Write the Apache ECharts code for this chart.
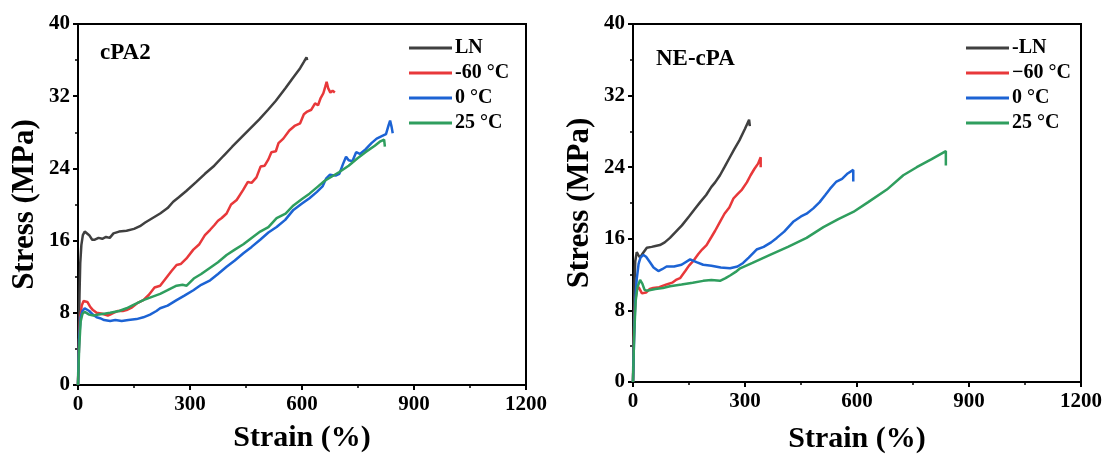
<!DOCTYPE html>
<html>
<head>
<meta charset="utf-8">
<script src="https://cdn.jsdelivr.net/npm/echarts@6/dist/echarts.min.js"></script>
<style>
html,body{margin:0;padding:0;background:#fff;}
#chart{width:1108px;height:459px;}
</style>
</head>
<body>
<div id="chart"></div>
<script>
// ---- Data (strain %, stress MPa) ----
const panelTitles = ['cPA2', 'NE-cPA'];
const xTicks = [0, 300, 600, 900, 1200];
const yTicks = [0, 8, 16, 24, 32, 40];
const leftNames = ['LN', '-60 °C', '0 °C', '25 °C'];
const rightNames = ['-LN', '\u221260 °C', '0 °C', '25 °C'];

const cPA2_LN = [[0,0],[2,5],[4,10],[6,13.5],[9,15.5],[13,16.6],[18,17.0],[23,17.0],[30,16.6],[38,16.1],[45,16.1],[55,16.3],[65,16.2],[75,16.4],[85,16.3],[95,16.8],[110,17.0],[130,17.1],[150,17.3],[166,17.6],[180,18.0],[200,18.5],[220,19.0],[240,19.6],[255,20.3],[270,20.8],[290,21.5],[317,22.5],[340,23.4],[365,24.3],[390,25.4],[413,26.4],[437,27.4],[461,28.4],[485,29.4],[509,30.5],[530,31.5],[556,32.9],[575,34.0],[595,35.1],[605,35.8],[612,36.3],[614,36.0]];
const cPA2_m60 = [[0,0],[3,5],[6,7.5],[10,8.8],[15,9.3],[19,9.4],[25,9.2],[32,8.7],[40,8.3],[50,8.0],[65,7.9],[80,7.7],[86,7.8],[95,8.0],[107,8.2],[120,8.2],[130,8.3],[145,8.6],[160,9.1],[175,9.4],[190,10.0],[205,10.8],[220,11.0],[235,11.8],[250,12.6],[264,13.3],[275,13.4],[290,14.0],[309,15.0],[325,15.6],[340,16.6],[354,17.2],[365,17.7],[375,18.2],[385,18.5],[398,19.0],[410,20.0],[425,20.5],[442,21.6],[455,22.5],[465,22.4],[478,23.0],[489,24.2],[500,24.3],[510,25.0],[518,25.8],[530,25.9],[537,26.8],[550,27.3],[566,28.2],[580,28.7],[595,29.0],[605,30.0],[614,30.3],[625,30.5],[635,31.2],[643,31.0],[650,31.8],[657,32.3],[662,33.0],[666,33.6],[670,32.9],[676,32.4],[682,32.6],[688,32.4]];
const cPA2_0 = [[0,0],[3,5],[7,7.5],[12,8.2],[18,8.5],[23,8.5],[30,8.2],[40,7.8],[50,7.5],[59,7.4],[70,7.2],[86,7.1],[100,7.2],[117,7.1],[135,7.2],[157,7.3],[175,7.5],[193,7.8],[210,8.2],[220,8.5],[240,8.8],[264,9.4],[285,9.9],[309,10.5],[330,11.1],[354,11.6],[375,12.3],[398,13.1],[420,13.8],[443,14.6],[465,15.3],[488,16.1],[510,16.9],[532,17.5],[555,18.3],[577,19.4],[600,20.1],[620,20.7],[640,21.4],[655,22.0],[665,22.9],[675,23.3],[690,23.2],[700,23.4],[710,24.5],[718,25.3],[725,24.9],[735,24.8],[745,25.8],[755,25.6],[770,26.1],[786,26.8],[800,27.3],[815,27.6],[825,27.8],[832,28.8],[836,29.3],[840,28.6],[843,27.9]];
const cPA2_25 = [[0,0],[3,4],[7,7],[12,7.9],[18,8.1],[22,8.0],[30,7.8],[41,7.7],[55,7.8],[70,7.9],[86,8.0],[110,8.2],[130,8.5],[150,8.9],[175,9.4],[200,9.8],[220,10.1],[240,10.5],[264,11.0],[280,11.1],[291,11.0],[310,11.8],[330,12.3],[354,13.0],[375,13.6],[398,14.4],[420,15.0],[443,15.6],[465,16.3],[488,17.0],[510,17.5],[532,18.5],[556,19.0],[577,19.9],[600,20.6],[620,21.2],[640,21.9],[660,22.6],[680,23.1],[700,23.6],[725,24.3],[748,25.1],[770,25.8],[795,26.5],[810,27.0],[820,27.2],[822,26.4]];

const NE_LN = [[0,0],[2,6],[4,11],[6,13.5],[10,14.5],[14,14.2],[19,13.9],[25,14.3],[37,15.0],[50,15.1],[60,15.2],[72,15.3],[85,15.6],[99,16.1],[115,16.8],[131,17.5],[150,18.5],[165,19.3],[180,20.1],[196,20.9],[210,21.8],[220,22.3],[233,23.1],[245,24.0],[258,25.0],[271,26.0],[285,27.0],[300,28.3],[311,29.3],[313,28.6]];
const NE_m60 = [[0,0],[3,6],[6,9],[10,10.3],[15,10.6],[19,10.5],[24,9.9],[28,9.8],[35,10.0],[45,10.4],[54,10.5],[70,10.6],[90,10.9],[105,11.1],[115,11.4],[126,11.6],[140,12.4],[150,13.0],[161,13.5],[175,14.3],[185,14.8],[197,15.3],[210,16.2],[220,16.9],[233,17.9],[245,18.8],[258,19.5],[269,20.5],[280,21.0],[292,21.5],[305,22.3],[315,23.1],[325,23.8],[335,24.4],[342,25.1],[342,24.0]];
const NE_0 = [[0,0],[3,5],[6,9],[10,11.5],[15,13.2],[20,13.9],[28,14.2],[35,14.0],[45,13.4],[55,12.8],[68,12.4],[78,12.6],[90,12.9],[110,12.9],[130,13.1],[153,13.7],[170,13.4],[188,13.1],[210,13.0],[235,12.8],[260,12.7],[280,12.9],[295,13.3],[310,13.9],[331,14.8],[350,15.1],[370,15.6],[385,16.1],[405,16.8],[429,17.9],[450,18.5],[465,18.8],[483,19.4],[500,20.1],[515,20.9],[528,21.6],[545,22.4],[560,22.7],[575,23.3],[590,23.7],[590,22.4]];
const NE_25 = [[0,0],[3,5],[7,9],[12,10.6],[19,11.4],[25,11.0],[31,10.3],[37,10.2],[60,10.4],[80,10.5],[99,10.7],[130,10.9],[160,11.1],[188,11.3],[210,11.4],[233,11.3],[248,11.6],[260,11.9],[275,12.3],[287,12.7],[320,13.3],[367,14.2],[415,15.1],[465,16.1],[510,17.3],[550,18.2],[590,19.0],[630,20.1],[680,21.5],[724,23.1],[760,24.0],[800,24.9],[838,25.8],[838,24.2]];

// ---- Styling ----
const FONT = '"Liberation Serif", "Times New Roman", serif';
const colors = ['#404040', '#e8383a', '#1c63d4', '#2f9e5e'];
const plain = v => String(v);
const PLOT = {top:24, width:448, height:361, lefts:[78, 633]};

function grid(left){
  return {left:left, top:PLOT.top, width:PLOT.width, height:PLOT.height,
    show:true, borderColor:'#000', borderWidth:2, backgroundColor:'transparent'};
}
function xAxis(i, gap){
  return {gridIndex:i, type:'value', min:xTicks[0], max:xTicks[xTicks.length-1], interval:300,
    axisLine:{show:true, onZero:false, lineStyle:{color:'#000', width:2}},
    axisTick:{show:true, length:5, lineStyle:{color:'#000', width:2}},
    minorTick:{show:true, splitNumber:2, length:3, lineStyle:{color:'#000', width:1.5}},
    splitLine:{show:false},
    axisLabel:{fontFamily:FONT, fontWeight:'bold', fontSize:21, color:'#000', margin:9, formatter:plain},
    name:'Strain (%)', nameLocation:'middle', nameGap:gap,
    nameTextStyle:{fontFamily:FONT, fontWeight:'bold', fontSize:30, color:'#000'}};
}
function yAxis(i){
  return {gridIndex:i, type:'value', min:yTicks[0], max:yTicks[yTicks.length-1], interval:8,
    axisLine:{show:true, onZero:false, lineStyle:{color:'#000', width:2}},
    axisTick:{show:true, length:5, lineStyle:{color:'#000', width:2}},
    minorTick:{show:true, splitNumber:2, length:3, lineStyle:{color:'#000', width:1.5}},
    splitLine:{show:false},
    axisLabel:{fontFamily:FONT, fontWeight:'bold', fontSize:21, color:'#000', margin:8, formatter:plain},
    name:'Stress (MPa)', nameLocation:'middle', nameGap:38,
    nameTextStyle:{fontFamily:FONT, fontWeight:'bold', fontSize:31, color:'#000'}};
}
function line(name, data, color, idx){
  return {type:'line', name:name, data:data, xAxisIndex:idx, yAxisIndex:idx,
    showSymbol:false, symbol:'none', smooth:false,
    lineStyle:{color:color, width:2.5}, itemStyle:{color:color}, z:3};
}
function legend(names, left){
  return {data:names, left:left, top:38, padding:0, orient:'vertical', itemWidth:43, itemHeight:3, itemGap:5,
    icon:'rect', selectedMode:false,
    textStyle:{fontFamily:FONT, fontWeight:'bold', fontSize:20, color:'#000', lineHeight:20, padding:[0,0,0,-2]}};
}

const leftData = [cPA2_LN, cPA2_m60, cPA2_0, cPA2_25];
const rightData = [NE_LN, NE_m60, NE_0, NE_25];
const series = [];
leftData.forEach((d,k)=>series.push(line(leftNames[k], d, colors[k], 0)));
rightData.forEach((d,k)=>series.push(line(rightNames[k], d, colors[k], 1)));

const option = {
  animation:false,
  backgroundColor:'#fff',
  title:[
    {text:panelTitles[0], left:100, top:42, padding:0, textStyle:{fontFamily:FONT, fontWeight:'bold', fontSize:23, color:'#000'}},
    {text:panelTitles[1], left:656, top:48, padding:0, textStyle:{fontFamily:FONT, fontWeight:'bold', fontSize:23, color:'#000'}}
  ],
  legend:[legend(leftNames, 409), legend(rightNames, 966)],
  grid:[grid(PLOT.lefts[0]), grid(PLOT.lefts[1])],
  xAxis:[xAxis(0, 38), xAxis(1, 42)],
  yAxis:[yAxis(0), yAxis(1)],
  series:series
};
const chart = echarts.init(document.getElementById('chart'), null, {renderer:'canvas'});
chart.setOption(option);
</script>
</body>
</html>
